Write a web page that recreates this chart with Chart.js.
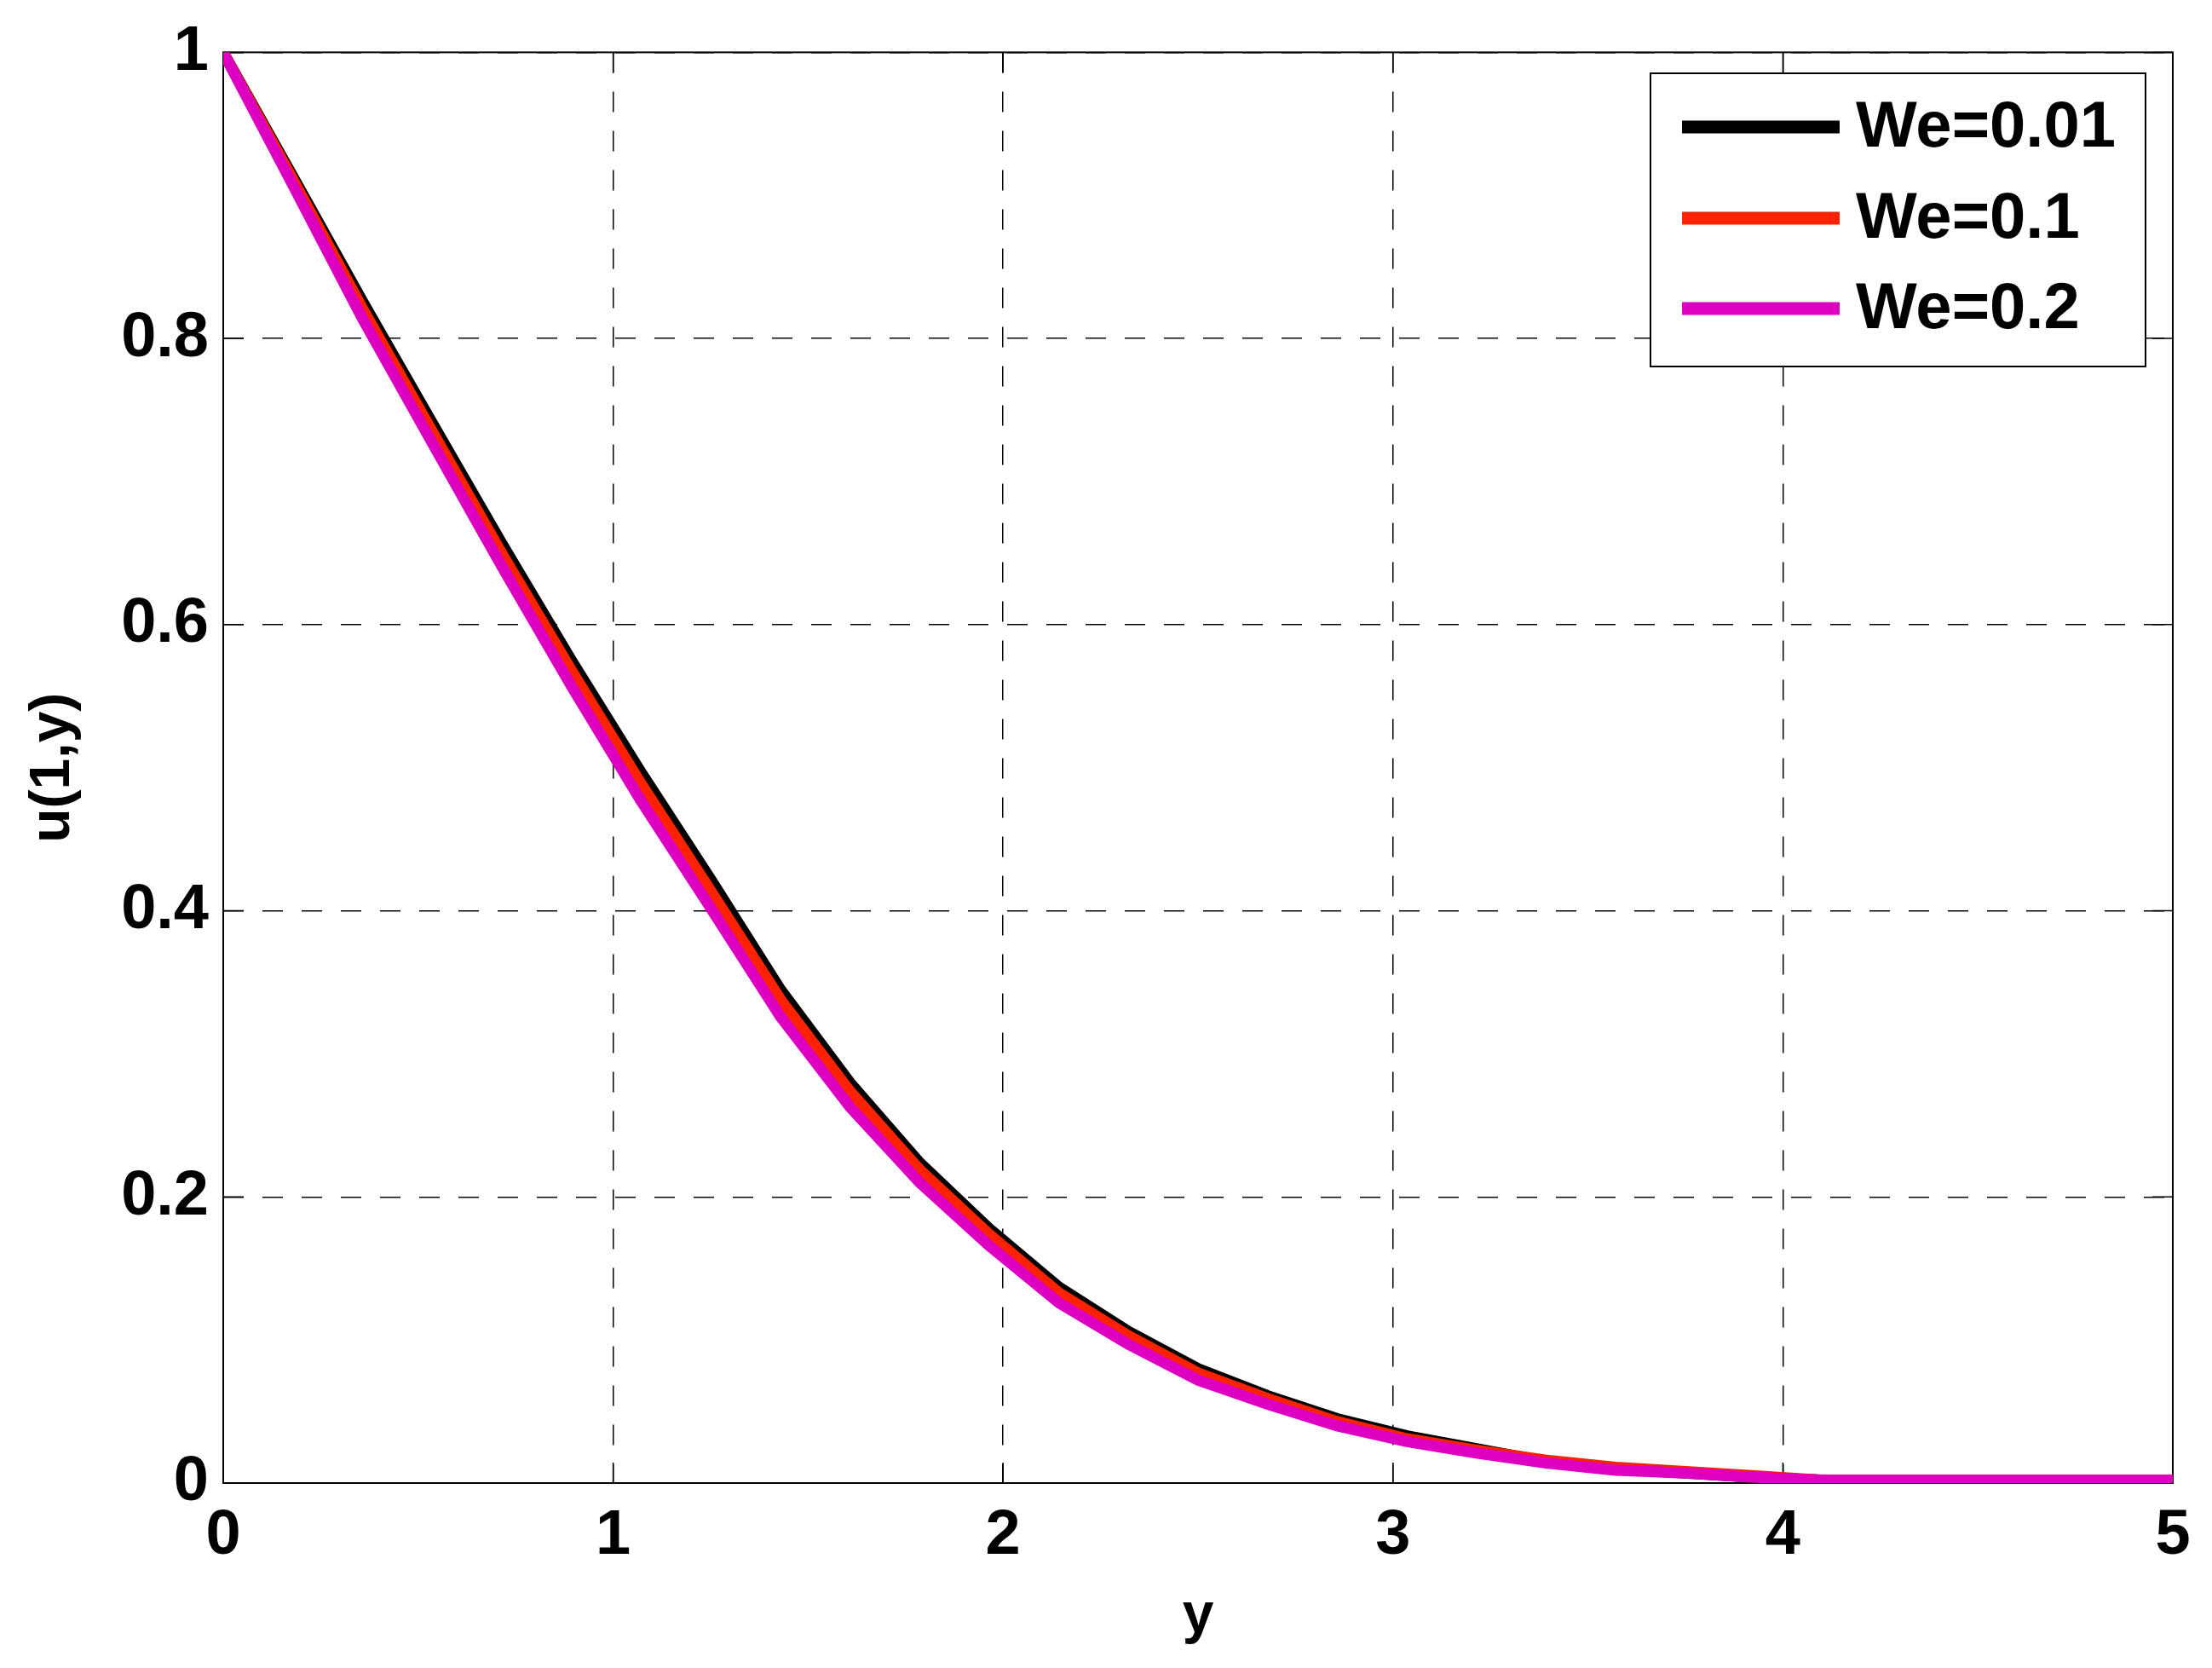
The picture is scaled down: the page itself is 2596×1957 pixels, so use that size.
<!DOCTYPE html>
<html>
<head>
<meta charset="utf-8">
<script src="https://cdn.jsdelivr.net/npm/chart.js@4.4.1/dist/chart.umd.min.js"></script>
<style>
html,body{margin:0;padding:0;background:#fff;}
#c{display:block;}
</style>
</head>
<body>
<canvas id="c" width="2596" height="1957"></canvas>
<script>
// ---- data ----
const yPos = [0, 0.179, 0.357, 0.536, 0.714, 0.893, 1.071, 1.25, 1.429, 1.607, 1.786, 1.964, 2.143, 2.321, 2.5, 2.679, 2.857, 3.036, 3.214, 3.393, 3.571, 3.75, 3.929, 4.107, 4.286, 4.464, 4.643, 4.821, 5];
const uWe001 = [1.000, 0.913, 0.826, 0.741, 0.657, 0.575, 0.497, 0.422, 0.345, 0.280, 0.224, 0.178, 0.137, 0.106, 0.080, 0.061, 0.045, 0.033, 0.024, 0.015, 0.010, 0.007, 0.004, 0.002, 0.002, 0.002, 0.002, 0.002, 0.002];
const uWe01  = [1.000, 0.911, 0.821, 0.735, 0.650, 0.568, 0.489, 0.414, 0.338, 0.274, 0.219, 0.174, 0.133, 0.103, 0.077, 0.059, 0.043, 0.031, 0.023, 0.016, 0.011, 0.008, 0.005, 0.002, 0.002, 0.002, 0.002, 0.002, 0.002];
const uWe02  = [1.000, 0.907, 0.814, 0.727, 0.641, 0.557, 0.477, 0.402, 0.326, 0.263, 0.210, 0.166, 0.126, 0.097, 0.072, 0.055, 0.040, 0.029, 0.021, 0.014, 0.009, 0.007, 0.004, 0.002, 0.002, 0.002, 0.002, 0.002, 0.002];
const seriesLabels = ['We=0.01', 'We=0.1', 'We=0.2'];
const seriesColors = ['#000000', 'rgb(252,34,0)', 'rgb(222,0,192)'];
const xTitle = 'y';
const yTitle = 'u(1,y)';

const FONT = "'Liberation Sans', Arial, Helvetica, sans-serif";

function pts(vals){ return yPos.map((x,i)=>({x:x, y:vals[i]})); }

const boxPlugin = {
  id: 'boxPlugin',
  beforeDatasetsDraw(chart){
    const {ctx, chartArea:a, scales} = chart;
    ctx.save();
    ctx.strokeStyle = '#000';
    ctx.lineWidth = 2;
    ctx.strokeRect(a.left, a.top, a.right - a.left, a.bottom - a.top);
    const L = 24;
    ctx.lineWidth = 1.5;
    ctx.beginPath();
    scales.x.ticks.forEach(t=>{
      const px = scales.x.getPixelForValue(t.value);
      ctx.moveTo(px, a.bottom); ctx.lineTo(px, a.bottom - L);
      ctx.moveTo(px, a.top); ctx.lineTo(px, a.top + L);
    });
    scales.y.ticks.forEach(t=>{
      const py = scales.y.getPixelForValue(t.value);
      ctx.moveTo(a.left, py); ctx.lineTo(a.left + L, py);
      ctx.moveTo(a.right, py); ctx.lineTo(a.right - L, py);
    });
    ctx.stroke();
    ctx.restore();
  }
};

const legendPlugin = {
  id: 'boxLegend',
  afterDraw(chart){
    const ctx = chart.ctx;
    const bx = 1937, by = 86, bw = 581, bh = 344;
    ctx.save();
    ctx.fillStyle = '#fff';
    ctx.fillRect(bx, by, bw, bh);
    ctx.strokeStyle = '#000';
    ctx.lineWidth = 2;
    ctx.strokeRect(bx, by, bw, bh);
    const rows = [149, 256, 362];
    chart.data.datasets.forEach((ds, i)=>{
      const y = rows[i];
      ctx.strokeStyle = ds.borderColor;
      ctx.lineWidth = 15;
      ctx.beginPath();
      ctx.moveTo(1974, y); ctx.lineTo(2159, y);
      ctx.stroke();
      ctx.fillStyle = '#000';
      ctx.font = 'bold 76px ' + FONT;
      ctx.textAlign = 'left';
      ctx.textBaseline = 'middle';
      ctx.fillText(ds.label, 2178, y + 2);
    });
    ctx.restore();
  }
};

new Chart(document.getElementById('c'), {
  type: 'line',
  data: {
    datasets: [
      {label: seriesLabels[0], data: pts(uWe001), order: 2, borderColor: seriesColors[0], backgroundColor: seriesColors[0], borderWidth: 13, pointRadius: 0, tension: 0, fill: false},
      {label: seriesLabels[1], data: pts(uWe01),  order: 1, borderColor: seriesColors[1], backgroundColor: seriesColors[1], borderWidth: 13, pointRadius: 0, tension: 0, fill: false},
      {label: seriesLabels[2], data: pts(uWe02),  order: 0, borderColor: seriesColors[2], backgroundColor: seriesColors[2], borderWidth: 13, pointRadius: 0, tension: 0, fill: false}
    ]
  },
  options: {
    responsive: false,
    animation: false,
    devicePixelRatio: 1,
    layout: {padding: {left: 0, top: 53, right: 46, bottom: 0}},
    plugins: {legend: {display: false}, tooltip: {enabled: false}, title: {display: false}},
    scales: {
      x: {
        type: 'linear', min: 0, max: 5,
        afterFit: s => { s.height = 217; },
        ticks: {stepSize: 1, color: '#000', padding: 18, maxRotation: 0,
                font: {family: FONT, size: 74, weight: 'bold', lineHeight: 1.2}},
        grid: {color: '#000', lineWidth: 1.5, drawTicks: false, borderDash: [24, 22]},
        border: {display: false, dash: [24, 22]},
        title: {display: true, text: xTitle, color: '#000', padding: {top: 0, bottom: 21},
                font: {family: FONT, size: 66, weight: 'bold', lineHeight: 1.2}}
      },
      y: {
        type: 'linear', min: 0, max: 1,
        afterFit: s => { s.width = 262; },
        ticks: {stepSize: 0.2, color: '#000', padding: 17,
                font: {family: FONT, size: 74, weight: 'bold', lineHeight: 1.2},
                callback: v => String(Math.round(v * 10) / 10)},
        grid: {color: '#000', lineWidth: 1.5, drawTicks: false, borderDash: [24, 22]},
        border: {display: false, dash: [24, 22]},
        title: {display: true, text: yTitle, color: '#000', padding: {top: 23, bottom: 0},
                font: {family: FONT, size: 66, weight: 'bold', lineHeight: 1.2}}
      }
    }
  },
  plugins: [boxPlugin, legendPlugin]
});
</script>
</body>
</html>
